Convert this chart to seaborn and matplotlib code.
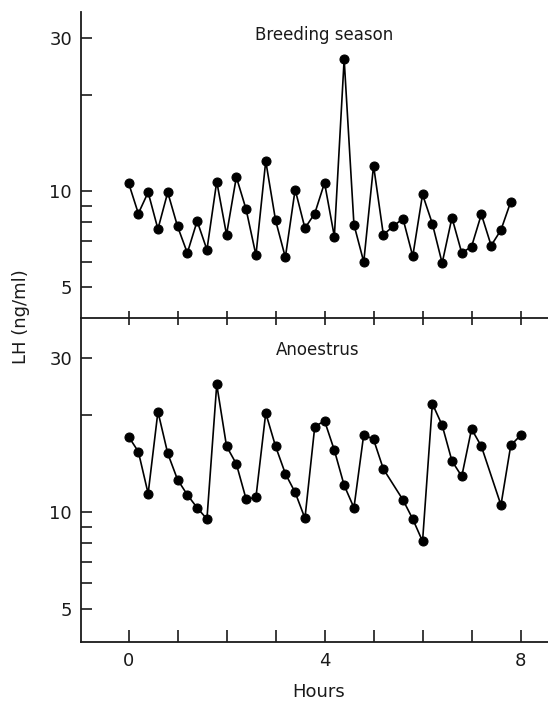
import matplotlib
matplotlib.use("Agg")
import matplotlib.pyplot as plt
import seaborn as sns
import pandas as pd
from matplotlib.ticker import FixedLocator, NullFormatter, FixedFormatter

# ---- data ----
breeding_hours = [0.0, 0.2, 0.4, 0.6, 0.8, 1.0, 1.2, 1.4, 1.6, 1.8,
                  2.0, 2.2, 2.4, 2.6, 2.8, 3.0, 3.2, 3.4, 3.6, 3.8,
                  4.0, 4.2, 4.4, 4.6, 4.8, 5.0, 5.2, 5.4, 5.6, 5.8,
                  6.0, 6.2, 6.4, 6.6, 6.8, 7.0, 7.2, 7.4, 7.6, 7.8]
breeding_lh = [10.6, 8.5, 9.9, 7.6, 9.9, 7.75, 6.4, 8.05, 6.55, 10.7,
               7.3, 11.05, 8.75, 6.3, 12.4, 8.1, 6.2, 10.1, 7.65, 8.5,
               10.6, 7.2, 25.8, 7.85, 6.0, 12.0, 7.3, 7.75, 8.2, 6.25,
               9.75, 7.9, 5.95, 8.25, 6.4, 6.7, 8.45, 6.75, 7.55, 9.25]

anoestrus_hours = [0.0, 0.2, 0.4, 0.6, 0.8, 1.0, 1.2, 1.4, 1.6, 1.8,
                   2.0, 2.2, 2.4, 2.6, 2.8, 3.0, 3.2, 3.4, 3.6, 3.8,
                   4.0, 4.2, 4.4, 4.6, 4.8, 5.0, 5.2, 5.6, 5.8,
                   6.0, 6.2, 6.4, 6.6, 6.8, 7.0, 7.2, 7.6, 7.8, 8.0]
anoestrus_lh = [17.15, 15.4, 11.4, 20.5, 15.2, 12.6, 11.3, 10.3, 9.5, 24.9,
                16.0, 14.1, 10.95, 11.1, 20.3, 16.0, 13.15, 11.5, 9.55, 18.4,
                19.2, 15.55, 12.1, 10.3, 17.4, 16.8, 13.6, 10.9, 9.5,
                8.1, 21.7, 18.6, 14.4, 12.9, 18.1, 16.0, 10.5, 16.1, 17.3]

panel_titles = ["Breeding season", "Anoestrus"]
y_major = [5, 10, 30]
y_minor = [6, 7, 8, 9, 20]
x_major = [0, 4, 8]
x_minor = [1, 2, 3, 5, 6, 7]

# ---- style ----
sns.set_style("ticks")
plt.rcParams["font.family"] = ["DejaVu Sans"]
plt.rcParams["axes.linewidth"] = 1.3

W, H = 548, 704
fig = plt.figure(figsize=(W / 100, H / 100), dpi=100, facecolor="white")

left = 81 / W
width = 1 - left
top_bottom = 1 - 318.3 / H
top_top = 1 - 11.7 / H
bot_bottom = 1 - 642.3 / H

ax_top = fig.add_axes([left, top_bottom, width, top_top - top_bottom])
ax_bot = fig.add_axes([left, bot_bottom, width, top_bottom - bot_bottom])
ax_top.set_zorder(2)
ax_top.patch.set_alpha(0)
ax_bot.patch.set_alpha(0)

dfs = [pd.DataFrame({"Hours": breeding_hours, "LH": breeding_lh}),
       pd.DataFrame({"Hours": anoestrus_hours, "LH": anoestrus_lh})]
ylims = [(4.0, 36.3), (3.93, 40.0)]

for ax, df, title, ylim in zip([ax_top, ax_bot], dfs, panel_titles, ylims):
    sns.lineplot(data=df, x="Hours", y="LH", ax=ax, estimator=None,
                 color="black", linewidth=1.2, marker="o", markersize=6.5,
                 markeredgecolor="black", markerfacecolor="black")
    ax.set_yscale("log")
    ax.set_ylim(*ylim)
    ax.set_xlim(-0.97, 8.56)
    ax.yaxis.set_major_locator(FixedLocator(y_major))
    ax.yaxis.set_major_formatter(FixedFormatter([str(v) for v in y_major]))
    ax.yaxis.set_minor_locator(FixedLocator(y_minor))
    ax.yaxis.set_minor_formatter(NullFormatter())
    ax.xaxis.set_major_locator(FixedLocator(x_major))
    ax.xaxis.set_minor_locator(FixedLocator(x_minor))
    ax.xaxis.set_minor_formatter(NullFormatter())
    ax.tick_params(axis="y", which="both", direction="in", length=8,
                   width=1.2, labelsize=13, pad=6.5, colors="#1a1a1a")
    ax.set_xlabel("")
    ax.set_ylabel("")
    ax.spines["top"].set_visible(False)
    ax.spines["right"].set_visible(False)
    for s in ax.spines.values():
        s.set_color("#1a1a1a")

# top panel: boundary line with crossing ticks, no labels
ax_top.tick_params(axis="x", which="both", direction="inout", length=10,
                   width=1.2, labelbottom=False, colors="#1a1a1a")
ax_top.text(4.0, 0.924, panel_titles[0], transform=ax_top.get_xaxis_transform(),
            ha="center", va="center", fontsize=12, color="#1a1a1a")

# bottom panel
ax_bot.tick_params(axis="x", which="both", direction="in", length=8.4,
                   width=1.2, labelsize=13, pad=6.7, colors="#1a1a1a")
ax_bot.text(3.85, 0.902, panel_titles[1], transform=ax_bot.get_xaxis_transform(),
            ha="center", va="center", fontsize=12, color="#1a1a1a")
ax_bot.set_xlabel("Hours", fontsize=13, color="#1a1a1a")
ax_bot.xaxis.set_label_coords((319 - 81) / (W - 81), -0.126)

fig.text(21 / W, 1 - 316.5 / H, "LH (ng/ml)", rotation=90, ha="center",
         va="center", fontsize=13, color="#1a1a1a")

fig.savefig("out.png", dpi=100, facecolor="white")
